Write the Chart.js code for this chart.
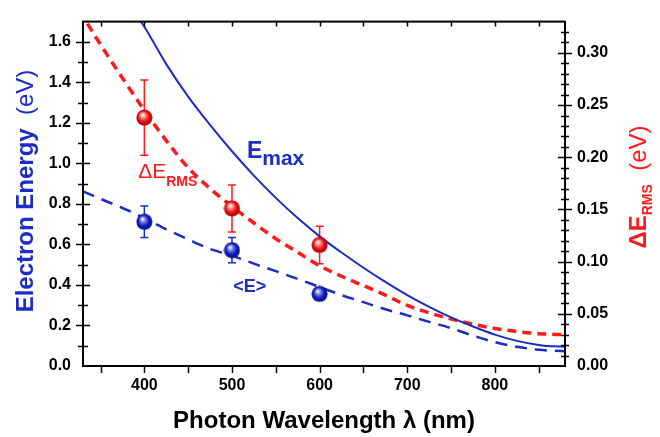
<!DOCTYPE html>
<html lang="en">
<head>
    <meta charset="UTF-8">
    <title>Electron Energy vs Photon Wavelength</title>
    <script src="https://cdn.jsdelivr.net/npm/chart.js"></script>
    <style>
        body { margin: 0; background: #fff; }
        #wrap { width: 660px; height: 437px; }
    </style>
</head>
<body>
    <div id="wrap"><canvas id="chart" width="660" height="437"></canvas></div>
    <script>
        // Measured points (nm, eV)
        const wavelengths = [400, 500, 600];
        const meanEnergy = [0.712, 0.572, 0.356];
        const meanErr = [0.078, 0.062, 0.028];
        const rmsEnergy = [0.238, 0.151, 0.116];
        const rmsErr = [0.036, 0.0225, 0.018];

        // E_max curve (left axis)
        const emaxNm = [396, 400, 425, 450, 475, 500, 525, 550, 575, 600, 625, 650, 675, 700, 725, 750, 775, 800, 825, 850, 865, 880];
        const emaxEv = [1.70, 1.675, 1.49, 1.33, 1.19, 1.06, 0.94, 0.83, 0.73, 0.64, 0.56, 0.485, 0.415, 0.35, 0.292, 0.24, 0.195, 0.155, 0.124, 0.104, 0.097, 0.096];

        // <E> fit (left axis)
        const meanFitNm = [330, 350, 375, 400, 425, 450, 475, 500, 525, 550, 575, 600, 625, 650, 675, 700, 725, 750, 775, 800, 825, 850, 880];
        const meanFitEv = [0.862, 0.825, 0.78, 0.73, 0.675, 0.625, 0.578, 0.545, 0.505, 0.468, 0.43, 0.39, 0.35, 0.315, 0.28, 0.25, 0.218, 0.187, 0.15, 0.118, 0.095, 0.08, 0.073];

        // dE_RMS fit (right axis)
        const rmsFitNm = [335, 350, 375, 400, 425, 450, 475, 500, 525, 550, 575, 600, 625, 650, 675, 700, 725, 750, 775, 800, 825, 850, 880];
        const rmsFitEv = [0.328, 0.308, 0.276, 0.245, 0.216, 0.19, 0.17, 0.153, 0.137, 0.122, 0.109, 0.096, 0.086, 0.077, 0.068, 0.058, 0.051, 0.045, 0.040, 0.036, 0.033, 0.031, 0.030];

        // Axis ticks
        const xTicks = [400, 500, 600, 700, 800];
        const leftTicks = [0, 0.2, 0.4, 0.6, 0.8, 1.0, 1.2, 1.4, 1.6];
        const rightTicks = [0, 0.05, 0.10, 0.15, 0.20, 0.25, 0.30];

        const BLUE = '#1c2cc4';
        const RED = '#ff1a1a';
        const FONT = '"Liberation Sans", Arial, sans-serif';

        const pts = (xs, ys) => xs.map((x, i) => ({ x: x, y: ys[i] }));

        function makeBall(base, light, dark) {
            const c = document.createElement('canvas');
            c.width = 17; c.height = 17;
            const g = c.getContext('2d');
            const grad = g.createRadialGradient(6.5, 5.5, 0.5, 8.5, 8.5, 8.5);
            grad.addColorStop(0, '#ffffff');
            grad.addColorStop(0.22, light);
            grad.addColorStop(0.6, base);
            grad.addColorStop(1, dark);
            g.fillStyle = grad;
            g.beginPath();
            g.arc(8.5, 8.5, 8, 0, Math.PI * 2);
            g.fill();
            return c;
        }
        const blueBall = makeBall('#1020c0', '#8a92ee', '#000a70');
        const redBall = makeBall('#ee1010', '#ff9a9a', '#900000');

        // draw text made of parts with different fonts and baseline shifts
        function drawParts(ctx, parts, x, y, align) {
            let total = 0;
            parts.forEach(p => { ctx.font = p.font; total += ctx.measureText(p.t).width; });
            let cx = align === 'center' ? x - total / 2 : x;
            ctx.textAlign = 'left';
            ctx.textBaseline = 'alphabetic';
            parts.forEach(p => {
                ctx.font = p.font;
                ctx.fillStyle = p.color;
                ctx.fillText(p.t, cx, y + (p.dy || 0));
                cx += ctx.measureText(p.t).width;
            });
        }

        const errorBars = {
            id: 'errorBars',
            beforeDatasetsDraw(chart) {
                const ctx = chart.ctx;
                chart.data.datasets.forEach(ds => {
                    if (!ds.errs) return;
                    const ys = chart.scales[ds.yAxisID];
                    const xs = chart.scales.x;
                    ctx.save();
                    ctx.strokeStyle = ds.errColor;
                    ctx.lineWidth = 1.5;
                    ds.data.forEach((p, i) => {
                        const px = xs.getPixelForValue(p.x);
                        const top = ys.getPixelForValue(p.y + ds.errs[i]);
                        const bot = ys.getPixelForValue(p.y - ds.errs[i]);
                        ctx.beginPath();
                        ctx.moveTo(px, top); ctx.lineTo(px, bot);
                        ctx.moveTo(px - 4, top); ctx.lineTo(px + 4, top);
                        ctx.moveTo(px - 4, bot); ctx.lineTo(px + 4, bot);
                        ctx.stroke();
                    });
                    ctx.restore();
                });
            }
        };

        const frame = {
            id: 'frame',
            afterDraw(chart) {
                const ctx = chart.ctx;
                const a = chart.chartArea;
                const x = chart.scales.x, y = chart.scales.y, y2 = chart.scales.y2;
                ctx.save();
                ctx.strokeStyle = '#000';
                ctx.lineWidth = 2;
                ctx.strokeRect(a.left, a.top, a.right - a.left, a.bottom - a.top);

                ctx.lineWidth = 1.5;
                ctx.beginPath();
                // x ticks every 50 nm: bottom outward, top inward
                for (let v = 350; v <= 850; v += 50) {
                    const px = Math.round(x.getPixelForValue(v)) + 0.5;
                    ctx.moveTo(px, a.bottom); ctx.lineTo(px, a.bottom + 7);
                    ctx.moveTo(px, a.top); ctx.lineTo(px, a.top + 5);
                }
                // left ticks every 0.1, crossing the axis
                for (let i = 1; i <= 16; i++) {
                    const py = Math.round(y.getPixelForValue(i / 10)) + 0.5;
                    const len = i % 2 === 0 ? 7 : 5;
                    ctx.moveTo(a.left - len, py); ctx.lineTo(a.left + len, py);
                }
                // right ticks every 0.01, crossing the axis
                for (let i = 1; i <= 32; i++) {
                    const py = Math.round(y2.getPixelForValue(i / 100)) + 0.5;
                    const len = i % 5 === 0 ? 7 : 4;
                    ctx.moveTo(a.right - len, py); ctx.lineTo(a.right + len, py);
                }
                ctx.stroke();

                // axis titles
                drawParts(ctx, [
                    { t: 'Photon Wavelength \u03bb (nm)', font: 'bold 24px ' + FONT, color: '#000' }
                ], 324, 428, 'center');

                ctx.save();
                ctx.translate(33, 191);
                ctx.rotate(-Math.PI / 2);
                drawParts(ctx, [
                    { t: 'Electron Energy', font: 'bold 24px ' + FONT, color: BLUE },
                    { t: '  (eV)', font: '24px ' + FONT, color: BLUE }
                ], 0, 0, 'center');
                ctx.restore();

                ctx.save();
                ctx.translate(646, 187);
                ctx.rotate(-Math.PI / 2);
                drawParts(ctx, [
                    { t: '\u0394E', font: 'bold 24px ' + FONT, color: RED },
                    { t: 'RMS', font: 'bold 14px ' + FONT, color: RED, dy: 6 },
                    { t: '  (eV)', font: '24px ' + FONT, color: RED }
                ], 0, 0, 'center');
                ctx.restore();

                // curve labels
                drawParts(ctx, [
                    { t: 'E', font: 'bold 23px ' + FONT, color: BLUE },
                    { t: 'max', font: 'bold 21px ' + FONT, color: BLUE, dy: 7 }
                ], x.getPixelForValue(517), y.getPixelForValue(1.027), 'left');
                drawParts(ctx, [
                    { t: '\u0394E', font: '21px ' + FONT, color: RED },
                    { t: 'RMS', font: 'bold 14px ' + FONT, color: RED, dy: 8 }
                ], x.getPixelForValue(393), y.getPixelForValue(0.929), 'left');
                drawParts(ctx, [
                    { t: '<E>', font: 'bold 18px ' + FONT, color: BLUE }
                ], x.getPixelForValue(501.5), y.getPixelForValue(0.364), 'left');
                ctx.restore();
            }
        };

        const tickFont = { family: FONT, size: 16, weight: 'bold' };
        const noGrid = { display: false, drawTicks: false };

        new Chart(document.getElementById('chart'), {
            type: 'scatter',
            data: {
                datasets: [
                    {
                        data: pts(emaxNm, emaxEv), yAxisID: 'y', showLine: true,
                        borderColor: BLUE, borderWidth: 2, pointRadius: 0, cubicInterpolationMode: 'monotone', order: 2
                    },
                    {
                        data: pts(meanFitNm, meanFitEv), yAxisID: 'y', showLine: true,
                        borderColor: BLUE, borderWidth: 2.5, borderDash: [12, 8], pointRadius: 0, cubicInterpolationMode: 'monotone', order: 2
                    },
                    {
                        data: pts(rmsFitNm, rmsFitEv), yAxisID: 'y2', showLine: true,
                        borderColor: RED, borderWidth: 3.5, borderDash: [9, 6], pointRadius: 0, cubicInterpolationMode: 'monotone', order: 2
                    },
                    {
                        data: pts(wavelengths, meanEnergy), yAxisID: 'y', showLine: false,
                        pointStyle: blueBall, pointRadius: 8, errs: meanErr, errColor: BLUE, order: 1
                    },
                    {
                        data: pts(wavelengths, rmsEnergy), yAxisID: 'y2', showLine: false,
                        pointStyle: redBall, pointRadius: 8, errs: rmsErr, errColor: RED, order: 1
                    }
                ]
            },
            options: {
                responsive: false,
                animation: false,
                layout: { padding: { top: 10, left: 0, right: 0, bottom: 0 } },
                plugins: { legend: { display: false }, tooltip: { enabled: false } },
                scales: {
                    x: {
                        type: 'linear', position: 'bottom', min: 330, max: 880,
                        grid: noGrid, border: { display: false },
                        afterBuildTicks: s => { s.ticks = xTicks.map(v => ({ value: v })); },
                        afterFit: s => { s.height = 71; },
                        ticks: { font: tickFont, color: '#000', padding: 10, callback: v => String(v) }
                    },
                    y: {
                        type: 'linear', position: 'left', min: 0, max: 1.7,
                        grid: noGrid, border: { display: false },
                        afterBuildTicks: s => { s.ticks = leftTicks.map(v => ({ value: v })); },
                        afterFit: s => { s.width = 83; },
                        ticks: { font: tickFont, color: '#000', padding: 12, callback: v => v.toFixed(1) }
                    },
                    y2: {
                        type: 'linear', position: 'right', min: 0, max: 0.33,
                        grid: noGrid, border: { display: false },
                        afterBuildTicks: s => { s.ticks = rightTicks.map(v => ({ value: v })); },
                        afterFit: s => { s.width = 95; },
                        ticks: { font: tickFont, color: '#000', padding: 12, callback: v => v.toFixed(2) }
                    }
                }
            },
            plugins: [errorBars, frame]
        });
    </script>
</body>
</html>
